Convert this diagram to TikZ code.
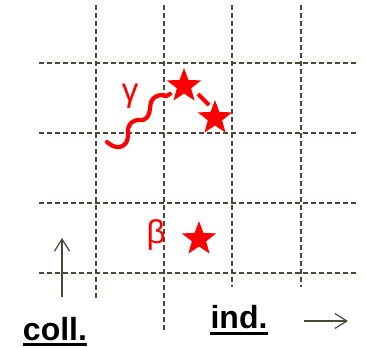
\documentclass[tikz,border=0pt]{standalone}
\usepackage{fontspec}
\setmainfont{Liberation Sans}
\usetikzlibrary{shapes.geometric,arrows.meta}
\definecolor{gridc}{RGB}{75,72,55}
\definecolor{redc}{RGB}{255,0,0}
\tikzset{
  gridline/.style={draw=gridc,line width=1.4pt,dash pattern=on 5pt off 3pt},
  redstar/.style={star,star points=5,star point ratio=2.4,fill=redc,draw=none,minimum size=36pt,inner sep=0pt},
  redlabel/.style={text=redc,font=\fontsize{33}{33}\selectfont,inner sep=0pt},
  axisarrow/.style={draw=gridc,line width=1.2pt,-{Straight Barb[length=12pt,width=15pt,line width=1.2pt]}},
  axislabel/.style={font=\bfseries\fontsize{32}{32}\selectfont,inner sep=0pt,anchor=base},
  uline/.style={line width=3pt,black},
  wave/.style={draw=redc,line width=4.2pt,line cap=round}
}
\begin{document}
\begin{tikzpicture}[x=1pt,y=-1pt]
\useasboundingbox (0,0) rectangle (365,348);
% grid
\draw[gridline] (96,5) -- (96,299);
\draw[gridline] (164,5) -- (164,330);
\draw[gridline] (232,5) -- (232,287);
\draw[gridline] (301,5) -- (301,287);
\draw[gridline] (39,63) -- (358,63);
\draw[gridline] (39,133) -- (358,133);
\draw[gridline] (39,203) -- (358,203);
\draw[gridline] (39,273) -- (358,273);
% stars
\node[redstar] (s1) at (184,86) {};
\node[redstar] (s2) at (215,118) {};
\node[redstar] (s3) at (199,239) {};
\coordinate (d1) at (198,94);
\coordinate (d2) at (209,105);
\draw[redc,line width=4pt] (d1) -- (d2);
% wave
\coordinate (w0) at (107,142);
\coordinate (w1) at (170,94);
\draw[wave] plot[smooth,tension=0.55] coordinates {(107,142) (113,146) (120,147) (126,143) (128,136) (128,129) (131,123) (137,120) (143,120) (148,116) (150,109) (151,102) (155,97) (161,95) (166,96) (170,94)};
% labels
\node[redlabel] (g) at (130,96) {γ};
\node[redlabel] (b) at (156,235) {β};
% arrows
\coordinate (a0) at (62,297);
\coordinate (a1) at (62,238);
\draw[axisarrow] (a0) -- (a1);
\coordinate (r0) at (304,321);
\coordinate (r1) at (348,321);
\draw[axisarrow] (r0) -- (r1);
\node[axislabel] (coll) at (55,340) {coll.};
\draw[uline] ([yshift=-4pt]coll.base west) -- ([yshift=-4pt]coll.base east);
\node[axislabel] (ind) at (239,328) {ind.};
\draw[uline] ([yshift=-5pt]ind.base west) -- ([yshift=-5pt]ind.base east);
\end{tikzpicture}
\end{document}
